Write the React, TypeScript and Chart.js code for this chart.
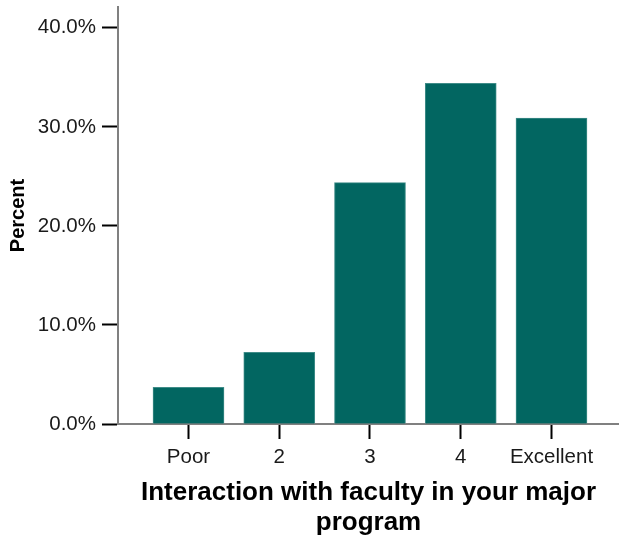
import React, { useEffect, useRef } from 'react';
import { Chart, registerables } from 'chart.js';

Chart.register(...registerables);

const categories = ['Poor', '2', '3', '4', 'Excellent'];
const percents = [3.7, 7.24, 24.37, 34.4, 30.88];
const yTickValues = [0, 10, 20, 30, 40];
const xTitle = ['Interaction with faculty in your major', 'program'];
const yTitle = 'Percent';

const FONT = "Arial, 'Liberation Sans', Helvetica, sans-serif";

export default function App() {
  const ref = useRef<HTMLCanvasElement>(null);

  useEffect(() => {
    document.body.style.margin = '0';
    const canvas = ref.current;
    if (!canvas) return;
    const chart = new Chart(canvas, {
      type: 'bar',
      data: {
        datasets: [
          {
            data: categories.map((_, i) => ({ x: i, y: percents[i] })),
            backgroundColor: '#026661',
            borderColor: '#3f8c88',
            borderWidth: 1,
            barThickness: 71,
          } as any,
        ],
      },
      options: {
        responsive: false,
        animation: false,
        layout: { padding: { top: 7, right: 0, left: 0, bottom: 0 } },
        plugins: {
          legend: { display: false },
          tooltip: { enabled: false },
        },
        scales: {
          x: {
            type: 'linear',
            offset: false,
            min: -0.777,
            max: 4.744,
            afterBuildTicks: (s: any) => {
              s.ticks = categories.map((_, i) => ({ value: i }));
            },
            afterFit: (s: any) => {
              s.height = 113;
              s.paddingLeft = 0;
              s.paddingRight = 0;
            },
            ticks: {
              callback: (v: any) => categories[v] ?? '',
              font: { family: FONT, size: 20.5 },
              color: '#1a1a1a',
              padding: 6,
              maxRotation: 0,
              autoSkip: false,
            },
            grid: {
              display: true,
              offset: false,
              drawOnChartArea: false,
              drawTicks: true,
              tickLength: 15,
              tickColor: '#000',
              tickWidth: 2,
            },
            border: { display: true, color: '#808080', width: 2 },
            title: {
              display: true,
              text: xTitle,
              font: { family: FONT, size: 26, weight: 'bold', lineHeight: 1.15 },
              color: '#000',
              padding: { top: 0, bottom: -1 },
            },
          } as any,
          y: {
            min: 0,
            max: 42.1,
            afterBuildTicks: (s: any) => {
              s.ticks = yTickValues.map((v) => ({ value: v }));
            },
            afterFit: (s: any) => {
              s.width = 118;
              s.paddingTop = 0;
              s.paddingBottom = 0;
            },
            ticks: {
              callback: (v: any) => Number(v).toFixed(1) + '%',
              font: { family: FONT, size: 20.5 },
              color: '#1a1a1a',
              padding: 6,
            },
            grid: {
              display: true,
              drawOnChartArea: false,
              drawTicks: true,
              tickLength: 16,
              tickColor: '#000',
              tickWidth: 2,
            },
            border: { display: true, color: '#808080', width: 2 },
            title: {
              display: true,
              text: yTitle,
              font: { family: FONT, size: 20, weight: 'bold', lineHeight: 1.2 },
              color: '#000',
              padding: { top: 6, bottom: 0 },
            },
          } as any,
        },
      },
    });
    return () => chart.destroy();
  }, []);

  return <canvas ref={ref} width={619} height={537} style={{ display: 'block' }} />;
}
